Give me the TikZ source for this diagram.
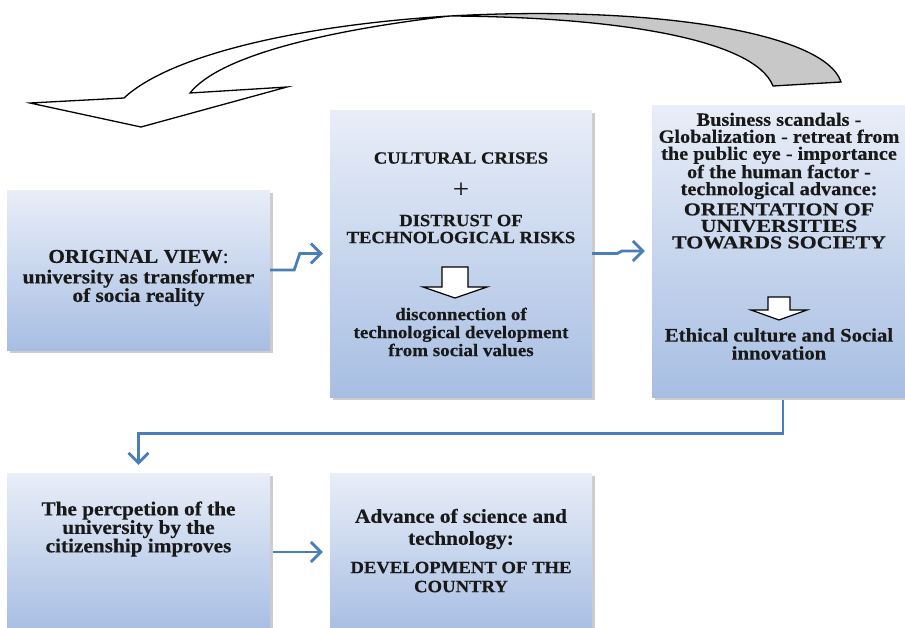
\documentclass[tikz,border=0pt]{standalone}
\usepackage{fontspec}
\setmainfont{Liberation Serif}[FakeStretch=1.08, FakeBold=0.4]
\usetikzlibrary{arrows.meta,shadows}
\definecolor{boxtop}{HTML}{E9EEF8}
\definecolor{boxbottom}{HTML}{A7BEE3}
\definecolor{linkblue}{HTML}{4A7EBB}
\definecolor{ribbon}{HTML}{C8C8C8}
\tikzset{
	box/.style={rectangle, inner sep=0pt, top color=boxtop, bottom color=boxbottom,
		drop shadow={shadow xshift=3pt, shadow yshift=-3pt, fill=black!40}},
	link/.style={draw=linkblue, line width=2.8pt, -{Straight Barb[length=10pt,width=20pt]}},
	txt/.style={align=center, text=black!90, font=\bfseries\fontsize{19.7}{18.5}\selectfont},
	caps/.style={txt, font=\bfseries\fontsize{17.2}{17}\selectfont},
	hollow/.style={draw=black, fill=white, line width=1.2pt, line join=miter}
}

\begin{document}
\begin{tikzpicture}[x=1pt, y=-1pt]
	\clip (0,0) rectangle (905,627);

	% boxes
	\node [box, minimum width=263pt, minimum height=160pt] (orig) at (138.5, 270) {};
	\node [box, minimum width=262pt, minimum height=287pt] (crisis) at (461, 253.5) {};
	\node [box, minimum width=254pt, minimum height=292pt] (orient) at (779, 251) {};
	\node [box, minimum width=263pt, minimum height=158pt] (percep) at (138.5, 552) {};
	\node [box, minimum width=262pt, minimum height=158pt] (advance) at (461, 552) {};

	% texts
	\node [txt] (origText) at (138.5, 278) {ORIGINAL VIEW{\mdseries:}\\[2pt] university as transformer\\ of socia reality};

	\node [caps] (crisisA) at (461, 158) {CULTURAL CRISES};
	\node [txt, font=\fontsize{26}{26}\selectfont] (plus) at (461, 190) {+};
	\node [caps] (crisisB) at (461, 229) {DISTRUST OF\\ TECHNOLOGICAL RISKS};
	\node [caps, font=\bfseries\fontsize{17.6}{18}\selectfont] (crisisC) at (461, 332) {disconnection of\\ technological development\\ from social values};

	\node [txt, font=\bfseries\fontsize{18.8}{17}\selectfont] (orientA) at (779, 156) {Business scandals -\\ Globalization - retreat from\\ the public eye - importance\\ of the human factor -\\ technological advance:};
	\node [caps, font=\bfseries\fontsize{18.2}{16.5}\selectfont\addfontfeature{FakeStretch=1.2}] (orientB) at (779, 226) {ORIENTATION OF\\ UNIVERSITIES\\ TOWARDS SOCIETY};
	\node [txt, font=\bfseries\fontsize{19.2}{18}\selectfont] (orientC) at (779, 344) {Ethical culture and Social\\ innovation};

	\node [txt] (percepText) at (138.5, 529) {The percpetion of the\\ university by the\\ citizenship improves};

	\node [txt, font=\bfseries\fontsize{19.8}{22}\selectfont] (advanceA) at (461, 529) {Advance of science and\\ technology:};
	\node [caps, font=\bfseries\fontsize{17.3}{19}\selectfont] (advanceB) at (461, 577) {DEVELOPMENT OF THE\\ COUNTRY};

	% hollow arrows inside the boxes
	\foreach \ax/\ay/\sw/\hw/\sy/\ty in {455/267/13/32/287/298, 779/297/11/28/310/320}{
		\draw [hollow] (\ax-\sw,\ay) -- (\ax+\sw,\ay) -- (\ax+\sw,\sy) -- (\ax+\hw,\sy)
			-- (\ax,\ty) -- (\ax-\hw,\sy) -- (\ax-\sw,\sy) -- cycle;
	}

	% connectors
	\draw [link] (orig.east) -- ++(24,0) -- ([xshift=-30pt]crisis.west) -- ([xshift=-7pt]crisis.west);
	\draw [link] (crisis.east) -- ++(25,0) -- ([xshift=-30pt]orient.west) -- ([xshift=-7pt]orient.west);
	\draw [link] ([xshift=4pt, yshift=-3pt]orient.south) -- ++(0,33) -| ([yshift=8pt]percep.north);
	\draw [link] ([xshift=3pt]percep.east) -- ([xshift=-7pt]advance.west);

	% big curved arrow on top
	\draw [hollow, line width=1.3pt] (124,98) .. controls (170,55) and (300,25) .. (450,16)
		.. controls (330,30) and (220,55) .. (190,93) -- (287,87) -- (141,127) -- (30,103) -- cycle;
	\draw [hollow, fill=ribbon, line width=1.3pt] (450,16) .. controls (650,5) and (825,32) .. (841,82)
		-- (773,86) .. controls (755,40) and (620,17) .. (450,16) -- cycle;
\end{tikzpicture}
\end{document}
